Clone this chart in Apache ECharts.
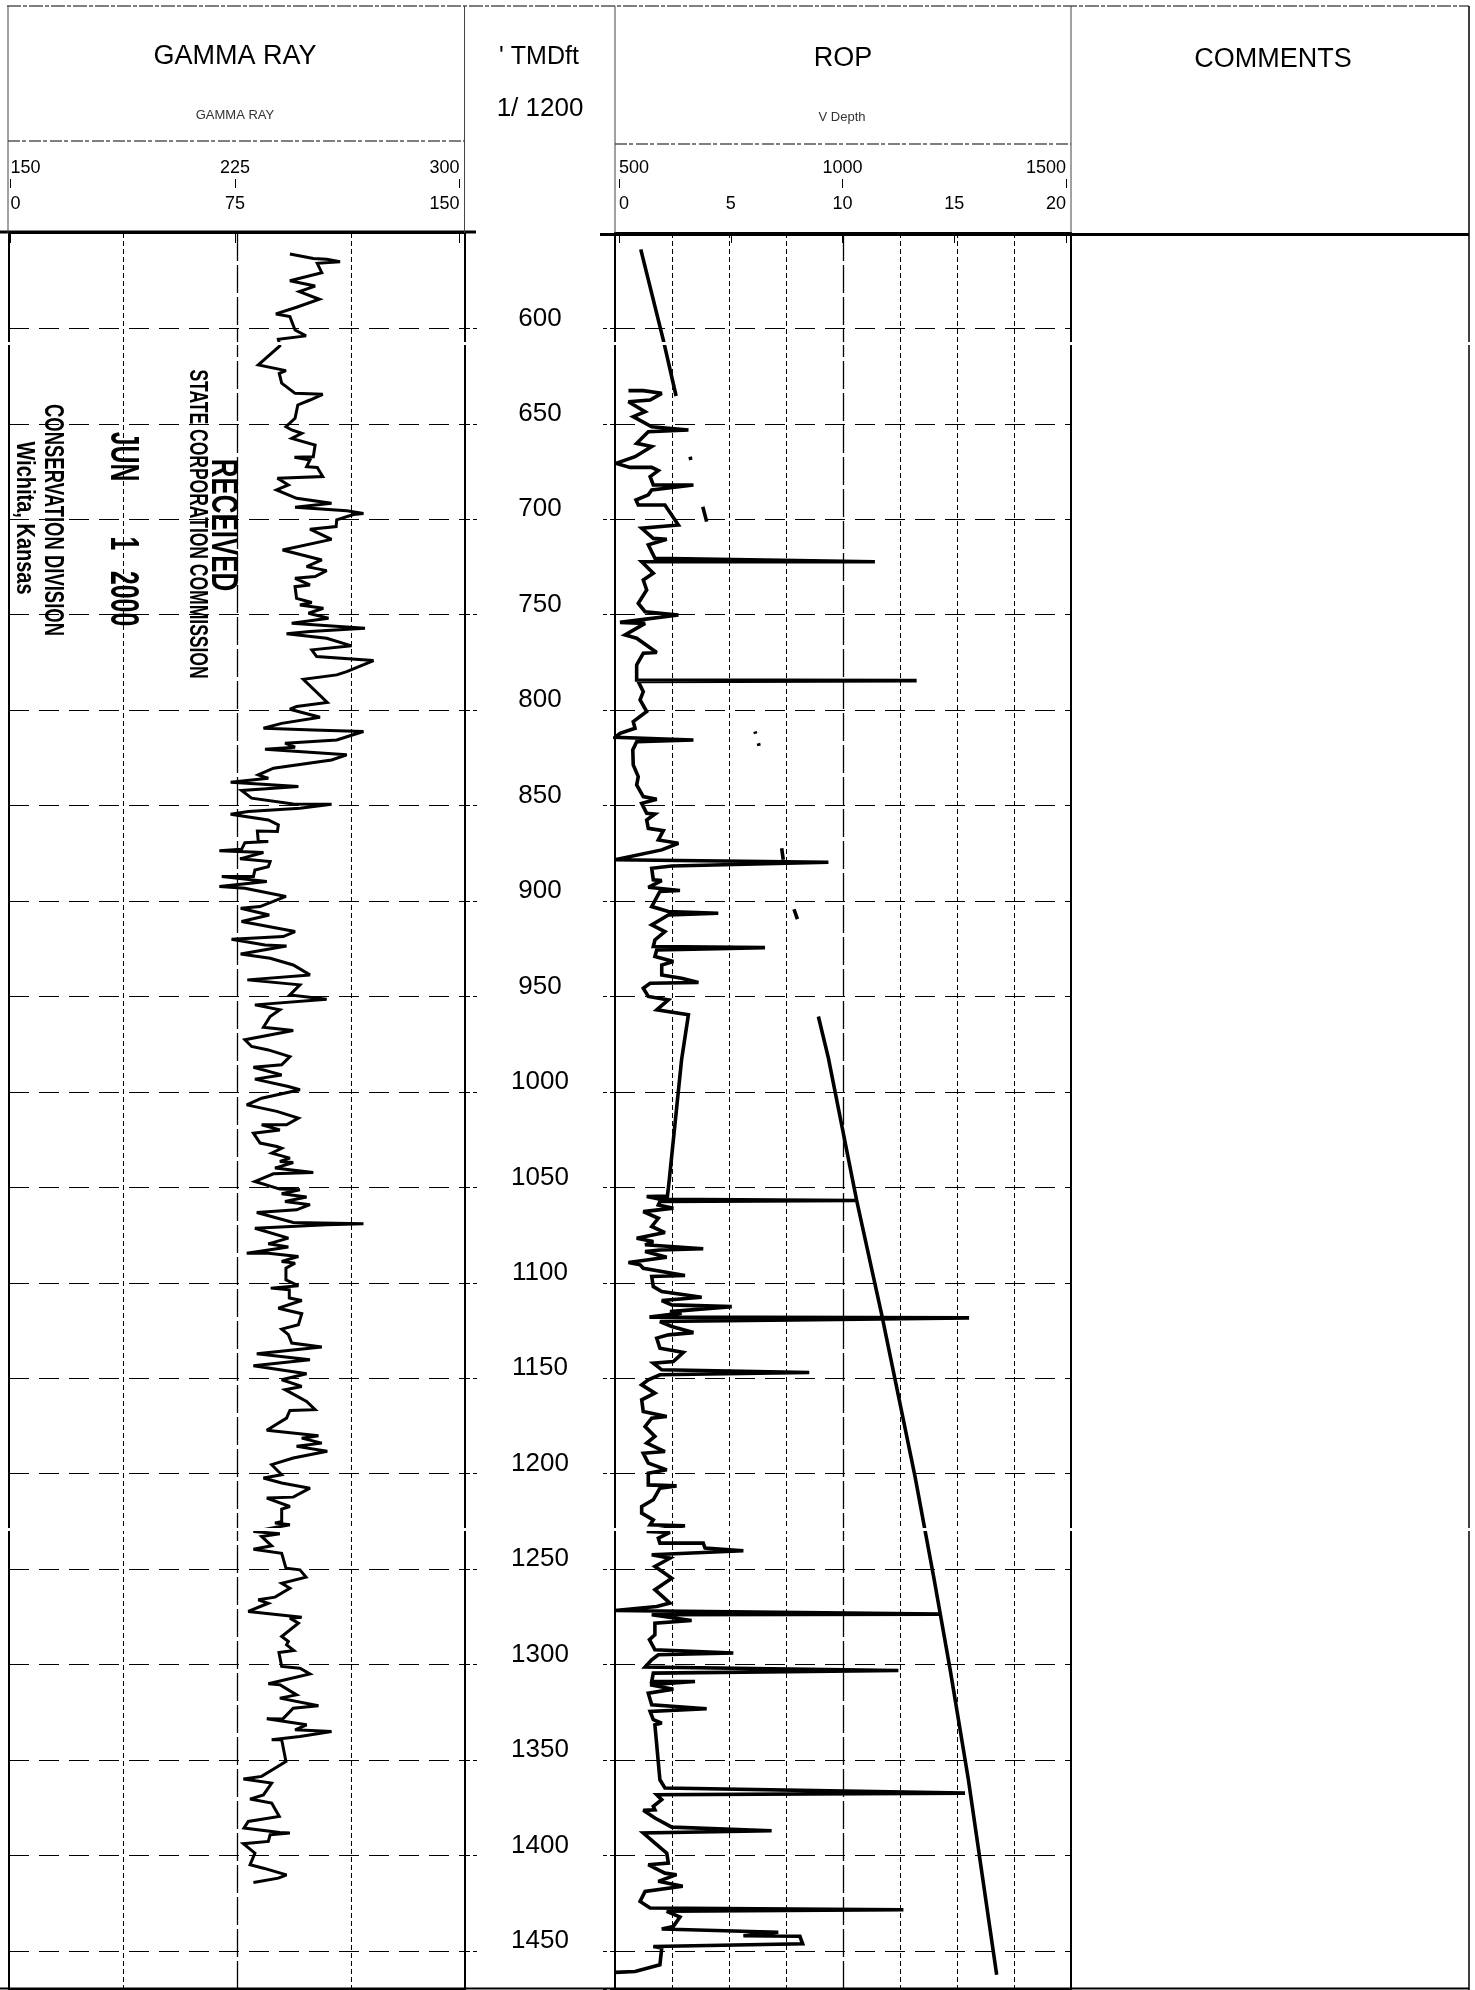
<!DOCTYPE html>
<html>
<head>
<meta charset="utf-8">
<title>Gamma ray / ROP log</title>
<style>
html, body { margin: 0; padding: 0; background: #fff; }
#container { width: 1475px; height: 1990px; }
</style>
<script src="https://cdn.jsdelivr.net/npm/echarts@6/dist/echarts.min.js"></script>
</head>
<body>
<div id="container"></div>
<script>
// all log readings are [depth ft, value]
var gammaTop = [[561,92.4],[563.3,100.1],[563.8,104.5],[565,108.9],[565.9,101.4],[570.8,102.9],[575,92.4],[577.8,100.7],[580.7,95.5],[584.7,102.1],[588.9,94.6],[592.4,87.8],[593.8,92.4],[600.8,94.1],[603.9,97.7],[605.7,88.6],[609.2,89.1],[619.1,82],[622.1,91.1],[623.5,88.9],[628.7,89.7],[634,94.1],[634.5,103.2],[637.5,99],[640.1,95],[647.1,94.1],[651.5,91.1],[653.2,93],[654.9,96.3],[657.6,93],[661.1,100.7],[667.2,100.1],[667.5,93.9],[668.9,99],[672.4,97.9],[672.8,101.4],[677.6,103.2],[678.5,88.3],[682,91.9],[684.6,88],[689,94.6],[691.6,106.1],[693.7,94.1],[695.5,111.1],[696.9,116.6],[697.5,113.3],[700.3,107.8],[703.8,107.6],[705.2,99],[710.5,106.1],[716.1,90],[721.3,102.9],[724.8,97.9],[726.9,104.5],[730,100.7],[730.9,94.1],[734.4,99],[735.3,94.1],[741.4,94.6],[743.6,99.6],[744.9,95.7],[746.6,103.4],[749.2,98.5],[751.8,105.1],[754.5,93],[757.1,117.1],[758.8,99],[760,91.3],[762.3,104.5],[766.3,112.7],[768.4,99.6],[771.9,101.2],[774,119.9]];
var gammaUpperMid = [[779.8,111.1],[781.5,107.8],[783.8,96.8],[796,104.7],[798.1,94.6],[799.5,92.4],[803.7,102.3],[806.9,89.7],[809.5,83.7],[810.4,100.1],[811.2,116.6],[815.6,107.8],[817.3,90.8],[819.4,94.1],[820.5,84.2],[823.4,111.1],[826.1,106.1],[830.4,87],[833.9,82],[835.7,85.3],[837.8,72.9],[840,95.2],[842.1,76.5],[846.1,79.8],[849.1,93.5],[849.3,106.1],[851.4,95.7],[853.1,78.7],[854.5,72.9],[857.5,85.3],[860.1,88.6],[863.6,88.3],[863.3,81.7],[868.8,82],[868.8,85.3],[869.4,77.6],[872.9,76.5],[873.6,69.2],[874.6,83.7],[877.9,76],[879.3,85.9],[882,85.3],[883.7,80.9],[887.2,80.4],[887.2,70],[889.8,84.8],[892.4,69.2],[893.3,77.6],[897.6,91.1],[902.9,82.6],[903.8,76.2],[907.3,85.6],[910.7,76.5],[916,94.1],[918.6,90.2],[920,73.2],[923,84.2],[923.5,91.3],[927.7,76.2],[930,85.9],[933.5,93.5],[938.7,99],[941.3,78.4],[943.9,95.7],[949.2,92.4],[951.4,104.5],[954.4,80.9],[957,89.1],[960.5,85.9],[966.1,83.7],[967.8,93.5],[972.7,77.6],[976.2,79.8],[978,85.3],[981.5,92.4],[985.8,89.7],[987.1,80.4],[991.1,89.7],[993.3,80.9],[997.2,91.9],[998.9,95.7],[1003.3,83.1]];
var gammaLowerMid = [[1006.8,78.2],[1010.2,88.1],[1013.7,95.2],[1017.2,91.3],[1017.2,83.1],[1019.9,89.1],[1021.6,80.4],[1026.8,82.6],[1028.6,88.1],[1029.5,89.7],[1032.1,86.4],[1034.7,92.4],[1036.4,89.1],[1037,93.5],[1039.9,87.5],[1042.2,100.1],[1042.9,87],[1046.9,80.9],[1050.9,89.1],[1051.3,95.7],[1053.4,89.7],[1055.1,97.9],[1057.4,90.8],[1059.1,99],[1061.8,94.6],[1063.2,81.5],[1068.4,93.5],[1069.1,116.6],[1069.6,104.5],[1071.4,80.9],[1076.6,91.9],[1079.6,85.3],[1081.3,91.9],[1084.5,78.2],[1084.5,85.3],[1086.2,95.2],[1088.8,89.7],[1089.7,94.1],[1092.3,91.1],[1098.4,91.1],[1101.6,95.2],[1102.8,86.1],[1103.7,92.2],[1108,92.2],[1109.3,96.3],[1113.3,88.6],[1116.2,96.3],[1122,95.2],[1124.3,89.7],[1127.2,91.9],[1131.6,93],[1133.7,102.9],[1137.2,81.5],[1140.3,99],[1143.5,80.4],[1147.7,97.9],[1150.8,89.7],[1154.3,96.3],[1156,90.8],[1162.2,97.9],[1166.5,100.7],[1166.9,92.4],[1170.9,91.3],[1177.3,84.8],[1180.1,101.8],[1181.4,96.3],[1184,102.9],[1185.7,94.6],[1188.3,104.7],[1191.8,93.5],[1195.3,86.4],[1200.6,89.7],[1202.3,83.7],[1204.9,89.7],[1207.6,99],[1212.3,93.5],[1212.8,84.8],[1217.2,92.4],[1218.6,89.7],[1225,89.7],[1225.9,87.5],[1226.8,92.4]];
var gammaBottom = [[1230.3,80.4],[1231.5,89.1],[1232.9,83.1],[1237.8,86.4],[1239.6,80.4],[1241.7,89.7],[1249.5,91.1],[1250.4,95.7],[1254.2,97.7],[1257.4,89.7],[1260,92.4],[1264.7,87.5],[1266.1,82],[1267.9,85.3],[1272.2,78.7],[1275.2,96.3],[1275.7,92.4],[1278.3,95.2],[1285.3,89.7],[1287.9,91.9],[1289.7,91.3],[1292.6,93.7],[1293.7,88.8],[1301,89.7],[1301.9,95.7],[1304.9,99],[1310.1,85.3],[1310.6,89.1],[1315.9,94.6],[1317.6,89.1],[1321.6,101.8],[1322.9,93.5],[1328.6,90],[1328.4,84.8],[1331.6,97.9],[1334.2,94.1],[1335.1,106.1],[1337.7,95.7],[1339.4,86.4],[1339.4,89.7],[1350.8,91.1],[1358.6,83.1],[1360,77.1],[1362.1,86.4],[1368.3,83.7],[1370.5,79.3],[1372.6,86.4],[1379.6,88.9],[1382.2,78.7],[1385.7,77.3],[1388,89.1],[1388.3,92.4],[1389.2,85.9],[1392.7,85.3],[1393.9,77.1],[1398.8,80.9],[1404.9,79.3],[1406.7,83.7],[1410.2,91.3],[1411.9,88.6],[1414.2,80.4]];

var ropTop = [[632.6,0.59],[632.6,1.24],[634,2.05],[637.5,1.54],[638.4,0.59],[643.6,1.32],[646.2,0.8],[651.5,1.61],[653.2,3.22],[654.1,1.46],[660.2,0.95],[661.9,1.61],[667.2,0.88],[670.7,0.04],[672.8,0.66],[672.8,1.61],[674.5,1.9],[677.6,1.54],[682,1.68],[682,3.44],[684.6,1.61],[687.2,1.46],[689.9,0.92],[692.5,1.02],[692.5,2.19],[703,2.78],[704.7,1.17],[710,1.68],[710.5,2.27],[713.4,1.46],[720.4,1.75],[722.2,11.4],[722.2,1.17],[728.3,1.68],[731.8,1.24],[737,1.39],[744,1.02],[748.4,1.32],[750.1,2.78],[754,0.22],[754.5,1.32],[760.6,0.44],[762.3,0.95],[769.8,1.83],[770.2,1.24],[776.3,0.95]];
var ropUpperMid = [[784.2,0.95],[784.5,13.23],[785,1.02],[790.3,1.24],[794.6,1.1],[800.7,1.39],[806,0.8],[809.5,0.88],[812.1,0.22],[814.2,0],[815.6,3.44],[816.5,0.95],[820.8,0.78],[828.7,0.8],[834.8,1.02],[839.2,0.95],[845.3,1.24],[846.7,1.83],[848.8,1.17],[854,1.39],[854.4,1.75],[857.5,1.39],[861.9,1.46],[863.1,2.12],[868,1.9],[869.7,2.78],[873.2,2.05],[878.4,0],[879.7,9.36],[881.6,2.49],[882.8,1.61],[888.9,1.68],[889.3,2.05],[892.8,1.46],[894.5,2.85],[895,1.97],[902.9,1.61],[905.5,2.34],[906.4,4.53],[907.3,2.34],[912.5,1.61],[916,2.19],[920.4,1.75],[923.8,1.68],[924.4,6.58],[925.6,1.83],[929.1,1.75],[931.7,2.56],[933.5,2.05],[938.7,2.05],[940.4,2.92],[942.7,3.66],[943.1,1.54],[945.7,1.24],[950,1.46],[951.8,2.34],[957,1.83],[959.6,3.22],[983.2,2.92],[1046.1,2.38],[1054.5,2.3]];
var ropLowerMid = [[1054.8,1.39],[1056.2,1.97],[1056.9,10.6],[1057.4,1.97],[1059.2,1.9],[1060.9,2.56],[1062.7,1.24],[1066.2,1.9],[1070.5,1.61],[1073.7,2.19],[1076.7,0.95],[1078.4,1.68],[1080.1,1.32],[1082.2,3.87],[1082.8,1.97],[1083.6,1.32],[1086.6,2.27],[1089.4,0.59],[1090.6,1.1],[1092.4,1.24],[1096.2,3.07],[1096.7,1.61],[1102,1.68],[1104.6,2.05],[1107.6,3.8],[1109.3,2.05],[1111.6,2.49],[1112.5,5.12],[1115.1,2.41],[1115.9,2.92],[1118,1.51],[1118.4,15.53],[1120.3,1.97],[1122.9,2.49],[1126.1,3.44],[1127.3,2.34],[1129,1.83],[1134.3,1.97],[1136.5,3],[1141.3,2.56],[1142.1,1.68],[1145.6,2.05],[1147,8.52],[1148.2,1.97],[1150.9,1.46],[1153.5,1.17],[1157.8,1.75],[1161.3,1.17],[1167.5,1.24],[1170.1,2.27],[1170.9,1.61],[1175.3,1.32],[1180.5,1.75],[1184,1.39],[1188.4,2.19],[1189.3,1.24],[1194.5,1.46],[1198,2.27],[1199.8,1.46],[1205.9,1.46],[1206.4,2.7],[1207.6,1.97],[1213.7,1.68],[1217.2,1.17],[1220.7,1.17],[1224.2,1.68],[1226.8,1.54],[1227.3,3.07],[1230.3,1.39],[1230.8,2.41],[1233.8,1.9],[1236.4,1.97],[1236.4,3.87],[1239,3.95],[1240.4,5.63],[1242.5,1.61],[1244.3,2.41],[1248.6,1.75],[1254.8,2.49]];
var ropBottom = [[1260.8,1.75],[1267.8,2.41],[1269.6,1.83],[1271.7,0],[1273.6,14.25],[1273.9,1.61],[1276.9,3.36],[1278.3,1.75],[1284.4,1.75],[1287,1.51],[1292.3,1.75],[1294,5.19],[1294.9,1.9],[1297.5,1.61],[1301.3,1.32],[1303.1,12.43],[1304.5,1.68],[1308.9,1.61],[1308.9,3.51],[1310.6,1.54],[1312.9,2.56],[1315,1.46],[1321.1,1.61],[1323.2,4.02],[1324.6,1.54],[1328.9,1.68],[1330.7,2.05],[1331.6,1.75],[1360.4,1.97],[1364.7,2.19],[1367.4,15.35],[1368.2,1.83],[1370.8,2.05],[1374.3,1.68],[1376.1,1.75],[1376.4,1.24],[1380.4,1.75],[1385.2,2.49],[1387.1,6.87],[1388.3,1.24],[1394.4,1.83],[1398.8,2.27],[1404,2.34],[1404.9,1.46],[1409.3,2.19],[1410.1,2.7],[1413.6,1.9],[1416.2,2.97],[1418.9,1.32],[1424.1,1.1],[1427.6,1.54],[1428.5,12.65],[1429.3,2.27],[1432.3,2.85],[1437.2,2.56],[1438.6,2.05],[1440.3,7.16],[1442.1,5.63],[1442.4,8.11],[1446.3,8.23],[1447.7,1.68],[1448.5,2.05],[1457.3,1.97],[1460.8,0.88],[1461.3,0]];

// wrapped / stray pieces of the ROP curve, null breaks the line
var ropWrapTop = [[558.6,1.13],[606.1,2.12],[635.4,2.68]];
var ropWrapLower = [[960.5,8.92],[982.3,9.36],[1056.9,10.6],[1116.8,11.7],[1201.5,13.16],[1255.6,14],[1302.7,14.7],[1360.4,15.5],[1462.5,16.74]];
var ropStray = [[667.2,3.29],[668.9,3.33],[null,null],[693.4,3.85],[701.2,4.02],[null,null],[811.2,6.14],[812.4,6.17],[null,null],[817.3,6.29],[818.7,6.32],[null,null],[872.3,7.31],[878.4,7.38],[null,null],[904.3,7.85],[909.5,8]];

var gammaGrid = [37.5, 112.5];
var ropGrid = [2.5, 5, 7.5, 12.5, 15, 17.5];

var FONT = '"Liberation Sans", Arial, sans-serif';
var INK = '#000';

var gammaLog = gammaTop.concat(gammaUpperMid, gammaLowerMid, gammaBottom);
var ropLog = ropTop.concat(ropUpperMid, ropLowerMid, ropBottom);

function toXY(list) {
    return list.map(function (p) { return [p[1], p[0]]; });
}

function plain(v) {
    return String(v);
}

function gridMarks(values, centre) {
    var marks = values.map(function (v) {
        return { xAxis: v, lineStyle: { color: INK, width: 1, type: [5, 3] } };
    });
    marks.push({ xAxis: centre, lineStyle: { color: INK, width: 1.3, type: [28, 4] } });
    return { silent: true, symbol: 'none', animation: false, label: { show: false }, data: marks };
}

function hline(x1, x2, y, width, dash) {
    return {
        type: 'line', silent: true,
        shape: { x1: x1, y1: y, x2: x2, y2: y },
        style: { stroke: INK, lineWidth: width, lineDash: dash || null }
    };
}

function vline(x, y1, y2, width, color) {
    return {
        type: 'line', silent: true,
        shape: { x1: x, y1: y1, x2: x, y2: y2 },
        style: { stroke: color || INK, lineWidth: width }
    };
}

function head(text, x, y, size, color) {
    return {
        type: 'text', silent: true, x: x, y: y,
        style: { text: text, fontFamily: FONT, fontSize: size, fill: color || INK, align: 'center', verticalAlign: 'middle' }
    };
}

// the rubber stamp, turned on its side
function stamp(text, x, y, size, squeeze, weight) {
    return {
        type: 'text', silent: true, x: x, y: y, rotation: -Math.PI / 2, scaleX: squeeze,
        style: { text: text, fontFamily: FONT, fontSize: size, fontWeight: weight, fill: INK, align: 'center', verticalAlign: 'middle' }
    };
}

function scanGap(y, h) {
    return { type: 'rect', silent: true, z: 100, shape: { x: 0, y: y, width: 1475, height: h }, style: { fill: '#fff' } };
}

function headerAxis(gridIndex, min, max, interval, offset, margin) {
    return {
        type: 'value', gridIndex: gridIndex, position: 'top', offset: offset,
        min: min, max: max, interval: interval,
        axisLine: { show: false },
        splitLine: { show: false },
        axisTick: { show: true, length: 9, lineStyle: { color: INK, width: 1 } },
        axisLabel: {
            show: true, color: INK, fontFamily: FONT, fontSize: 18, margin: margin, formatter: plain,
            alignMinLabel: 'left', alignMaxLabel: 'right', showMinLabel: true, showMaxLabel: true
        }
    };
}

function bodyAxis(gridIndex, max) {
    return {
        type: 'value', gridIndex: gridIndex, position: 'top', min: 0, max: max,
        axisLine: { show: false }, axisTick: { show: false }, axisLabel: { show: false }, splitLine: { show: false }
    };
}

function depthAxis(gridIndex) {
    return {
        type: 'value', gridIndex: gridIndex, inverse: true, min: 550, max: 1470, interval: 50,
        axisLine: { show: false }, axisTick: { show: false }, axisLabel: { show: false },
        splitLine: { show: true, lineStyle: { color: INK, width: 1, type: [20, 10] } }
    };
}

function gutterAxis(position, labels) {
    return {
        type: 'value', gridIndex: 2, position: position, inverse: true, min: 550, max: 1470, interval: 50,
        axisLine: { show: false }, splitLine: { show: false },
        axisTick: { show: true, inside: true, length: 12, lineStyle: { color: INK, width: 1, type: [5, 3] } },
        axisLabel: {
            show: labels, color: INK, fontFamily: FONT, fontSize: 26, margin: -75, align: 'center', verticalAlign: 'bottom',
            lineHeight: 20, formatter: plain, showMinLabel: false, showMaxLabel: false
        }
    };
}

function hiddenY(gridIndex) {
    return { type: 'value', gridIndex: gridIndex, show: false, min: 0, max: 1, splitLine: { show: false } };
}

function trace(name, axis, data, width, marks) {
    return {
        name: name, type: 'line', xAxisIndex: axis, yAxisIndex: axis, data: toXY(data),
        showSymbol: false, symbol: 'none', animation: false, silent: true, connectNulls: false,
        lineStyle: { color: INK, width: width, join: 'miter', miterLimit: 3 },
        markLine: marks
    };
}

var dom = document.getElementById('container');
var myChart = echarts.init(dom);

var option = {
    backgroundColor: '#fff',
    animation: false,
    grid: [
        { left: 9, top: 233, width: 456, height: 1756, show: true, borderColor: INK, borderWidth: 2, containLabel: false },
        { left: 615, top: 233, width: 456, height: 1756, show: true, borderColor: INK, borderWidth: 2, containLabel: false },
        { left: 465, top: 233, width: 150, height: 1756, containLabel: false },
        { left: 10.5, top: 233, width: 449, height: 10, containLabel: false },
        { left: 619, top: 233, width: 447, height: 10, containLabel: false }
    ],
    xAxis: [
        bodyAxis(0, 150),
        bodyAxis(1, 20),
        { type: 'value', gridIndex: 2, show: false, min: 0, max: 1, splitLine: { show: false } },
        headerAxis(3, 0, 150, 75, 6, 14),
        headerAxis(3, 150, 300, 75, 45, 11),
        headerAxis(4, 0, 20, 5, 6, 14),
        headerAxis(4, 500, 1500, 500, 45, 11)
    ],
    yAxis: [
        depthAxis(0),
        depthAxis(1),
        gutterAxis('left', true),
        gutterAxis('right', false),
        hiddenY(3),
        hiddenY(4)
    ],
    graphic: [
        // header rules
        hline(7, 1469, 6, 1.2, [14, 2, 4, 2]),
        hline(8, 464, 141, 1.2, [12, 2, 4, 3]),
        hline(615, 1071, 144, 1.2, [12, 2, 4, 3]),
        hline(0, 476, 232, 3),
        hline(600, 1469, 234.5, 3),
        hline(0, 1469, 1988.5, 2),
        vline(8, 6, 233, 1, '#444'),
        vline(464.5, 6, 233, 1, '#444'),
        vline(615, 6, 233, 1, '#444'),
        vline(1071, 6, 233, 1, '#444'),
        vline(1469, 6, 1990, 1.5),
        // headings
        head('GAMMA RAY', 235, 57, 27),
        head('GAMMA RAY', 235, 115, 13, '#333'),
        head("' TMDft", 539, 57, 25),
        head('1/ 1200', 540, 109, 26),
        head('ROP', 843, 59, 27),
        head('V Depth', 842, 117, 13, '#333'),
        head('COMMENTS', 1273, 60, 27),
        // received stamp
        stamp('RECEIVED', 222, 525, 37, 0.7, 'bold'),
        stamp('STATE CORPORATION COMMISSION', 197, 524, 25, 0.7, 'bold'),
        stamp('JUN        1   2000', 122, 529, 40, 0.62, 'bold'),
        stamp('CONSERVATION DIVISION', 53, 520, 28, 0.66, 'bold'),
        stamp('Wichita, Kansas', 24, 518, 25, 0.8, 'bold'),
        // bands the scanner dropped
        scanGap(342, 3),
        scanGap(1528, 3)
    ],
    series: [
        trace('GAMMA RAY', 0, gammaLog, 3, gridMarks(gammaGrid, 75)),
        trace('ROP', 1, ropLog, 3.6, gridMarks(ropGrid, 10)),
        trace('ROP wrap', 1, ropWrapTop, 3.6),
        trace('ROP wrap', 1, ropWrapLower, 3.6),
        trace('ROP', 1, ropStray, 3.6)
    ]
};

if (option && typeof option === "object") {
    myChart.setOption(option, true);
}
</script>
</body>
</html>
